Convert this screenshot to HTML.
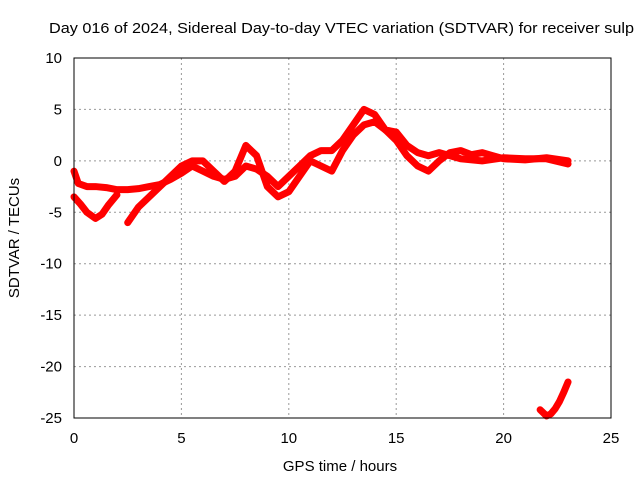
<!DOCTYPE html>
<html><head><meta charset="utf-8"><style>
body{margin:0;background:#fff;}
svg{display:block;font-family:"Liberation Sans",sans-serif;}
</style></head><body>
<svg id="chart" width="640" height="480" viewBox="0 0 640 480">
<text x="49" y="33" font-size="15" fill="#000" textLength="585" lengthAdjust="spacingAndGlyphs">Day 016 of 2024, Sidereal Day-to-day VTEC variation (SDTVAR) for receiver sulp</text>
<g id="grid"></g>
<g id="series"></g>
<rect x="74" y="58" width="537" height="360" fill="none" stroke="#000" stroke-width="1"/>
<g id="ticks"></g>
<text x="340" y="471" font-size="15" text-anchor="middle">GPS time / hours</text>
<text transform="translate(19,238) rotate(-90)" font-size="15" text-anchor="middle">SDTVAR / TECUs</text>
</svg>
<script>
const xTicks=[0,5,10,15,20,25];
const yTicks=[10,5,0,-5,-10,-15,-20,-25];
const s1x=[0,0.2,0.6,1,1.5,2,2.5,3,3.5,4,4.5,5,5.5,6,6.5,7,7.5,8,8.5,9,9.5,10,10.5,11,11.5,12,12.5,13,13.5,14,14.5,15,15.5,16,16.5,17,18,19,20,21,22,23];
const s1y=[-1,-2.2,-2.5,-2.5,-2.6,-2.8,-2.8,-2.7,-2.5,-2.3,-1.8,-1.2,-0.5,-1,-1.5,-1.8,-1.5,-0.5,-0.8,-1.5,-2.5,-1.5,-0.5,0.5,1,1,2,3.5,5,4.5,3,2.8,1.5,0.8,0.5,0.8,0.2,0,0.3,0.2,0.2,-0.3];
const s2x=[0,0.3,0.6,1,1.3,1.6,2];
const s2y=[-3.5,-4.2,-5,-5.6,-5.2,-4.3,-3.3];
const s3x=[2.5,3,3.5,4,4.5,5,5.5,6,6.5,7,7.5,8,8.5,9,9.5,10,10.5,11,11.5,12,12.5,13,13.5,14,14.5,15,15.5,16,16.5,17,17.5,18,18.5,19,19.5,20,21,22,23];
const s3y=[-6,-4.5,-3.5,-2.5,-1.5,-0.5,0,0,-1,-2,-1,1.5,0.5,-2.5,-3.5,-3,-1.5,0,-0.5,-1,1,2.5,3.5,3.8,3,2,0.5,-0.5,-1,0,0.8,1,0.6,0.8,0.5,0.2,0.1,0.3,0];
const s4x=[21.7,22,22.2,22.4,22.6,22.8,23];
const s4y=[-24.2,-24.8,-24.6,-24.1,-23.4,-22.5,-21.5];
const NS='http://www.w3.org/2000/svg';
const X=v=>74+v*(537/25), Y=v=>58+(10-v)*(360/35);
const grid=document.getElementById('grid'),ticks=document.getElementById('ticks'),ser=document.getElementById('series');
function mk(t,a,p){const e=document.createElementNS(NS,t);for(const k in a)e.setAttribute(k,a[k]);p.appendChild(e);return e;}
xTicks.forEach(v=>{
 if(v>0&&v<25){const g=mk('line',{x1:X(v),x2:X(v),y1:58,y2:418,stroke:'#999','stroke-dasharray':'2,3'},grid);
 
 }
 const t=mk('text',{x:X(v),y:443,'font-size':15,'text-anchor':'middle'},ticks);t.textContent=v;
 
 
});
yTicks.forEach(v=>{
 if(v<10&&v>-25){const g=mk('line',{x1:74,x2:611,y1:Y(v),y2:Y(v),stroke:'#999','stroke-dasharray':'2,3'},grid);
 
 }
 const t=mk('text',{x:62,y:Y(v)+5,'font-size':15,'text-anchor':'end'},ticks);t.textContent=v;
 
 
});
[[s1x,s1y],[s2x,s2y],[s3x,s3y],[s4x,s4y]].forEach(([xs,ys],i)=>{
 const pts=xs.map((x,j)=>X(x)+','+Y(ys[j])).join(' ');
 const p=mk('polyline',{points:pts,fill:'none',stroke:'#f00','stroke-width':7,'stroke-linejoin':'round','stroke-linecap':'round'},ser);
 
 
});
</script>
</body></html>
